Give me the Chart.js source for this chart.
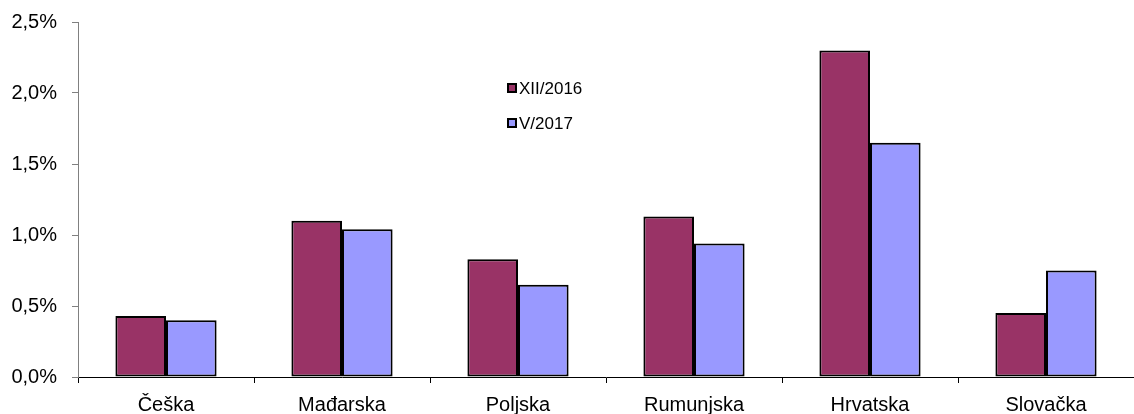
<!DOCTYPE html>
<html>
<head>
<meta charset="utf-8">
<script src="https://cdn.jsdelivr.net/npm/chart.js@4"></script>
<style>
    html, body { margin: 0; padding: 0; background: #fff; }
    #wrap { width: 1134px; height: 414px; }
</style>
</head>
<body>
<div id="wrap"><canvas id="chart"></canvas></div>
<script>
const categories = ['Češka', 'Mađarska', 'Poljska', 'Rumunjska', 'Hrvatska', 'Slovačka'];
const seriesNames = ['XII/2016', 'V/2017'];
const dec2016 = [0.43, 1.10, 0.83, 1.13, 2.30, 0.45];
const may2017 = [0.40, 1.04, 0.65, 0.94, 1.65, 0.75];
const yTicks = [0, 0.5, 1.0, 1.5, 2.0, 2.5];

const colors = ['#993366', '#9999ff'];
const fontFamily = '"Liberation Sans", Arial, sans-serif';

// legend drawn inside the plot, like the original
const innerLegend = {
    id: 'innerLegend',
    afterDraw(chart) {
        const ctx = chart.ctx;
        ctx.save();
        ctx.font = '17px ' + fontFamily;
        ctx.textBaseline = 'middle';
        chart.data.datasets.forEach((ds, i) => {
            const y = 88 + i * 35;
            ctx.fillStyle = ds.backgroundColor;
            ctx.fillRect(508, y - 4, 8, 8);
            ctx.strokeStyle = '#000';
            ctx.lineWidth = 2;
            ctx.strokeRect(508, y - 4, 8, 8);
            ctx.fillStyle = '#000';
            ctx.fillText(ds.label, 519, y + 1);
        });
        ctx.restore();
    }
};

new Chart(document.getElementById('chart'), {
    type: 'bar',
    data: {
        labels: categories,
        datasets: [{
            label: seriesNames[0],
            data: dec2016,
            backgroundColor: colors[0],
            borderColor: '#000',
            borderWidth: 2,
            borderSkipped: false
        }, {
            label: seriesNames[1],
            data: may2017,
            backgroundColor: colors[1],
            borderColor: '#000',
            borderWidth: 2,
            borderSkipped: false
        }]
    },
    options: {
        responsive: true,
        maintainAspectRatio: false,
        animation: false,
        layout: { padding: { top: 22, right: 0, left: 0, bottom: 0 } },
        plugins: {
            legend: { display: false },
            tooltip: { enabled: false }
        },
        datasets: {
            bar: { barPercentage: 1, categoryPercentage: 0.575 }
        },
        scales: {
            x: {
                grid: {
                    offset: true,
                    drawOnChartArea: false,
                    tickLength: 6,
                    color: '#000'
                },
                border: { color: '#000', width: 1 },
                ticks: {
                    color: '#000',
                    padding: 10,
                    font: { family: fontFamily, size: 20 }
                },
                afterFit(scale) { scale.height = 37; }
            },
            y: {
                min: 0,
                max: 2.5,
                afterBuildTicks(scale) {
                    scale.ticks = yTicks.map(v => ({ value: v }));
                },
                grid: {
                    drawOnChartArea: false,
                    tickLength: 6,
                    color: '#808080'
                },
                border: { color: '#808080', width: 1 },
                ticks: {
                    color: '#000',
                    padding: 15,
                    font: { family: fontFamily, size: 20 },
                    callback: v => v.toFixed(1).replace('.', ',') + '%'
                },
                afterFit(scale) {
                    scale.width = 78;
                    scale.paddingTop = 0;
                    scale.paddingBottom = 0;
                }
            }
        }
    },
    plugins: [innerLegend]
});
</script>
</body>
</html>
